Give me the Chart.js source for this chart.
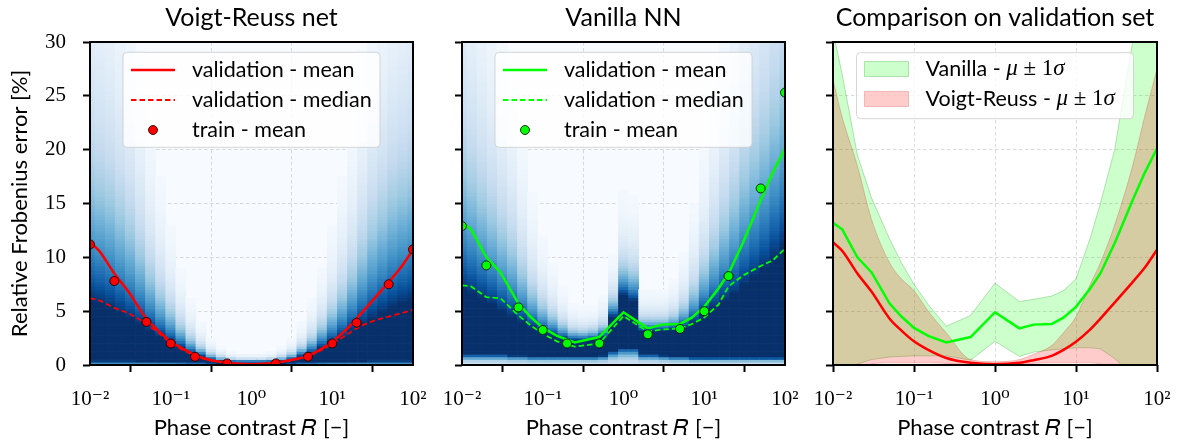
<!DOCTYPE html>
<html>
<head>
<meta charset="utf-8">
<script src="https://cdn.jsdelivr.net/npm/chart.js@4.4.1/dist/chart.umd.min.js"></script>
<style>
  html, body { margin: 0; padding: 0; background: #fff; }
  #wrap { position: relative; width: 1177px; height: 445px; overflow: hidden; }
  #wrap canvas { position: absolute; left: 0; top: 0; }
</style>
</head>
<body>
<div id="wrap">
  <canvas id="c1" width="1260" height="445"></canvas>
  <canvas id="c2" width="1260" height="445"></canvas>
  <canvas id="c3" width="1260" height="445"></canvas>
</div>
<script>
// axes
const xTicks = [0.01, 0.1, 1, 10, 100];
const xTickLabels = ['10⁻²', '10⁻¹', '10⁰', '10¹', '10²'];

// validation set (mean / median per phase contrast)
const valR = [0.01, 0.013, 0.02, 0.03, 0.05, 0.07, 0.1, 0.15, 0.25, 0.5, 1, 2, 3, 5, 7, 10, 15, 20, 30, 50, 70, 100];
const vrMean = [11.4, 10.6, 8.5, 6.8, 4.3, 3.2, 2.2, 1.4, 0.65, 0.2, 0.08, 0.2, 0.45, 0.85, 1.4, 2.15, 3.3, 4.3, 5.8, 7.7, 9.0, 10.7];
const vrMedian = [6.2, 6.0, 5.3, 4.8, 3.8, 3.0, 2.05, 1.3, 0.6, 0.2, 0.08, 0.2, 0.4, 0.8, 1.3, 1.95, 2.8, 3.4, 4.0, 4.5, 4.8, 5.1];
const vanMean = [13.2, 12.6, 10.0, 8.6, 5.7, 4.5, 3.45, 2.7, 2.1, 2.6, 4.9, 3.4, 3.75, 3.8, 4.4, 5.4, 7.1, 8.5, 11.3, 15.3, 17.8, 20.1];
const vanMedian = [7.4, 7.3, 6.3, 6.2, 4.6, 3.7, 2.9, 2.2, 1.7, 2.0, 4.55, 3.1, 3.3, 3.4, 3.8, 4.4, 5.6, 7.3, 8.3, 9.2, 9.7, 10.8];

// mu +- 1 sigma bands (validation)
const vanLow = [-1, -0.5, 0.1, 0.5, 0.75, 0.8, 0.85, 0.85, 0.85, 0.45, 2.2, 0.8, 1.2, 1.4, 1.5, 1.6, 1.6, 1.5, 0.6, -1, -1.5, -2];
const vanHigh = [31, 27, 19.5, 15.5, 11.7, 9.5, 7.5, 5.6, 3.6, 4.6, 7.6, 5.9, 6.1, 6.4, 6.9, 8.0, 11.8, 15, 20, 30, 36, 42];
const vrLow = [-1, -0.8, -0.3, 0.1, 0.2, 0.2, 0.2, 0.2, 0.15, 0.05, 0, 0.05, 0.15, 0.2, 0.2, 0.2, 0.2, 0.1, -0.3, -1, -1.5, -2];
const vrHigh = [26.5, 23, 18.5, 13.5, 9.5, 8.0, 6.9, 5.0, 3.0, 0.5, 0.3, 0.5, 1.0, 1.8, 3.0, 4.5, 7.5, 9.5, 13, 18.5, 23, 27.5];

// training set means
const trainR = [0.01, 0.02, 0.05, 0.1, 0.2, 0.5, 2, 5, 10, 20, 50, 100];
const vrTrain = [11.2, 7.8, 4.0, 2.0, 0.77, 0.15, 0.15, 0.77, 2.0, 3.93, 7.5, 10.74];
const vanTrain = [12.9, 9.25, 5.35, 3.25, 2.0, 2.0, 2.85, 3.35, 5.0, 8.26, 16.4, 25.3];

// error density columns: bottom of dense band, top of dense band, fade length above it
const colR = [0.01, 0.01334, 0.01778, 0.02371, 0.03162, 0.04217, 0.05623, 0.07499,
  0.1, 0.1334, 0.1778, 0.2371, 0.3162, 0.4217, 0.5623, 0.7499,
  1, 1.334, 1.778, 2.371, 3.162, 4.217, 5.623, 7.499,
  10, 13.34, 17.78, 23.71, 31.62, 42.17, 56.23, 74.99, 100];
const vrDenseLo = [0.4, 0.4, 0.4, 0.4, 0.4, 0.35, 0.35, 0.3, 0.3, 0.25, 0.2, 0.2, 0.15, 0.1, 0.1, 0.1, 0.1,
  0.1, 0.1, 0.1, 0.15, 0.2, 0.2, 0.25, 0.3, 0.3, 0.35, 0.35, 0.4, 0.4, 0.4, 0.4, 0.4];
const vrDenseHi = [6.0, 5.7, 5.3, 4.8, 4.3, 3.8, 3.2, 2.6, 2.1, 1.6, 1.1, 0.8, 0.5, 0.35, 0.3, 0.3, 0.3,
  0.3, 0.3, 0.35, 0.5, 0.8, 1.1, 1.6, 2.1, 2.6, 3.2, 3.8, 4.3, 4.8, 5.3, 5.7, 6.0];
const vrFade = [11, 10.5, 10, 9, 8, 6.5, 5, 3.8, 2.8, 1.9, 1.3, 0.8, 0.5, 0.35, 0.25, 0.2, 0.2,
  0.2, 0.25, 0.35, 0.5, 0.8, 1.3, 1.9, 2.8, 3.8, 5, 6.5, 8, 9, 10, 10.5, 11];
const vanDenseLo = [1.0, 1.0, 1.0, 1.0, 1.0, 0.9, 0.9, 0.8, 0.8, 0.8, 0.8, 0.8, 0.8, 0.8, 0.9, 1.3, 1.6,
  1.6, 1.0, 1.0, 0.9, 0.8, 0.8, 0.7, 0.7, 0.7, 0.7, 0.7, 0.7, 0.7, 0.7, 0.7, 0.7];
const vanDenseHi = [7.0, 6.6, 6.1, 5.6, 5.0, 4.5, 4.0, 3.5, 3.1, 2.8, 2.5, 2.3, 2.3, 2.4, 2.6, 4.5, 6.5,
  6.0, 3.2, 3.2, 3.2, 3.3, 3.5, 4.0, 4.8, 5.4, 6.0, 6.6, 7.4, 8.2, 9.0, 10, 11];
const vanFade = [11, 10, 9, 8, 7, 6, 4.5, 3.2, 2.3, 1.7, 1.2, 0.9, 0.8, 0.8, 1.0, 1.5, 2.5,
  2.5, 1.0, 1.0, 1.0, 1.2, 1.8, 2.8, 4, 5.5, 7, 8.5, 10, 11, 12, 13, 14];

const canvasW = 1260;
const sansFamily = 'Lato, "Open Sans", "DejaVu Sans", sans-serif';
const serifFamily = '"Liberation Serif", "DejaVu Serif", serif';
const tickFont = { family: serifFamily, size: 21 };

// matplotlib "Blues"
const blueStops = ['#f7fbff', '#deebf7', '#c6dbef', '#9ecae1', '#6baed6', '#4292c6', '#2171b5', '#08519c', '#08306b'];
const blueRgb = blueStops.map(h => [1, 3, 5].map(i => parseInt(h.slice(i, i + 2), 16)));
function blues(v) {
  v = Math.max(0, Math.min(1, v));
  const p = v * (blueRgb.length - 1);
  const i = Math.min(Math.floor(p), blueRgb.length - 2), f = p - i;
  const c = blueRgb[i].map((a, j) => Math.round(a + (blueRgb[i + 1][j] - a) * f));
  return `rgb(${c[0]},${c[1]},${c[2]})`;
}

function cellLevel(y, lo, hi, fade, base) {
  if (y < lo) return base + (1 - base) * Math.pow(y / lo, 2);
  if (y <= hi) return 1;
  return Math.exp(-(y - hi) / fade);
}

function heatCells(lo, hi, fade, base) {
  const cells = [], colors = [];
  colR.forEach((r, k) => {
    for (let j = 0; j < 120; j++) {
      const y0 = j * 0.25;
      const level = cellLevel(y0 + 0.125, lo[k], hi[k], fade[k], base);
      if (level < 0.02) continue;
      cells.push({ x: r, y: [y0, y0 + 0.25] });
      colors.push(blues(level));
    }
  });
  return { cells, colors };
}

const pts = (xs, ys) => xs.map((x, i) => ({ x, y: ys[i] }));

// plugins
const bgPlugin = {
  id: 'areaBg',
  beforeDraw(chart, args, o) {
    const { ctx, chartArea: a } = chart;
    ctx.save();
    ctx.fillStyle = o.color || '#fff';
    ctx.fillRect(a.left, a.top, a.right - a.left, a.bottom - a.top);
    ctx.restore();
  }
};

const framePlugin = {
  id: 'frame',
  afterDraw(chart) {
    const { ctx, chartArea: a } = chart;
    ctx.save();
    ctx.strokeStyle = '#000';
    ctx.lineWidth = 2;
    ctx.strokeRect(a.left, a.top, a.right - a.left, a.bottom - a.top);
    ctx.restore();
  }
};

function drawLabel(ctx, text, x, y) {
  const k = text.indexOf(' - ');
  const math = /[μσ]/.test(text) && k >= 0;
  const sans = `21.5px ${sansFamily}`;
  const parts = math ? [[text.slice(0, k + 3), sans]] : [[text, sans]];
  if (math) {
    for (const ch of text.slice(k + 3)) {
      parts.push([ch, /[μσ]/.test(ch) ? `italic 23px ${serifFamily}` : `23px ${serifFamily}`]);
    }
  }
  ctx.textBaseline = 'middle';
  ctx.textAlign = 'left';
  ctx.fillStyle = '#000';
  for (const [t, f] of parts) {
    ctx.font = f;
    ctx.fillText(t, x, y);
    x += ctx.measureText(t).width;
  }
}

const boxLegend = {
  id: 'boxLegend',
  afterDraw(chart, args, o) {
    if (!o.items) return;
    const { ctx, chartArea: a } = chart;
    const x0 = (a.left + a.right) / 2 - o.width / 2, y0 = a.top + o.top;
    ctx.save();
    ctx.beginPath();
    ctx.roundRect(x0, y0, o.width, o.height, 4);
    ctx.fillStyle = 'rgba(255,255,255,0.8)';
    ctx.fill();
    ctx.strokeStyle = 'rgba(204,204,204,0.8)';
    ctx.lineWidth = 1;
    ctx.stroke();
    o.items.forEach((idx, i) => {
      const ds = chart.data.datasets[idx];
      const cy = y0 + o.first + i * o.gap;
      const sx = x0 + 8, ex = x0 + 52;
      ctx.save();
      if (ds.showLine === false) {
        ctx.beginPath();
        ctx.arc((sx + ex) / 2, cy, ds.pointRadius, 0, Math.PI * 2);
        ctx.fillStyle = ds.pointBackgroundColor;
        ctx.fill();
        ctx.lineWidth = ds.pointBorderWidth;
        ctx.strokeStyle = ds.pointBorderColor;
        ctx.stroke();
      } else if (ds.fill) {
        ctx.fillStyle = ds.backgroundColor;
        ctx.fillRect(sx, cy - 7.5, ex - sx, 15);
        ctx.strokeStyle = ds.borderColor;
        ctx.lineWidth = 1;
        ctx.strokeRect(sx, cy - 7.5, ex - sx, 15);
      } else {
        ctx.beginPath();
        ctx.setLineDash(ds.borderDash || []);
        ctx.moveTo(sx, cy);
        ctx.lineTo(ex, cy);
        ctx.strokeStyle = ds.borderColor;
        ctx.lineWidth = ds.borderWidth;
        ctx.stroke();
      }
      ctx.restore();
      drawLabel(ctx, ds.label, x0 + 69, cy);
    });
    ctx.restore();
  }
};

const gridOpts = {
  color: 'rgba(190,190,190,0.55)', lineWidth: 1,
  drawTicks: true, tickLength: 7, tickWidth: 2, tickColor: '#000', tickBorderDash: []
};
const borderOpts = { display: false, dash: [3.5, 2.5] };

function makeScales(yWidth, showY) {
  return {
    x: {
      type: 'logarithmic', min: 0.01, max: 100, offset: false, z: 1,
      afterBuildTicks: s => { s.ticks = xTicks.map(v => ({ value: v })); },
      afterFit: s => { s.height = 80; },
      ticks: { font: tickFont, color: '#000', padding: 15, autoSkip: false, maxRotation: 0,
               callback: (v, i) => xTickLabels[i] },
      grid: gridOpts, border: borderOpts,
      title: { display: true, text: 'Phase contrast 𝑅 [−]', color: '#000',
               font: { family: sansFamily, size: 22 }, padding: { top: 0, bottom: 4 } }
    },
    y: {
      type: 'linear', min: 0, max: 30, z: 1,
      afterFit: s => { s.width = yWidth; },
      ticks: { stepSize: 5, font: tickFont, color: '#000', padding: 17, display: showY },
      grid: gridOpts, border: borderOpts,
      title: { display: showY, text: 'Relative Frobenius error [%]', color: '#000',
               font: { family: sansFamily, size: 22 }, padding: { top: 7, bottom: 0 } }
    }
  };
}

function titleOpts(text) {
  return { display: true, text, fullSize: false, color: '#000',
           font: { family: sansFamily, size: 25, weight: 'normal' }, padding: { top: 3, bottom: 9 } };
}

function heatPanel(canvasId, title, color, smooth, mean, median, train, heat, padL, yWidth, areaRight, showY) {
  const interp = smooth ? 'monotone' : 'default';
  return new Chart(document.getElementById(canvasId), {
    type: 'line',
    data: {
      datasets: [
        { label: 'validation - mean', data: pts(valR, mean), borderColor: color, borderWidth: 2.5,
          pointRadius: 0, fill: false, cubicInterpolationMode: interp, tension: 0, order: 1 },
        { label: 'validation - median', data: pts(valR, median), borderColor: color, borderWidth: 1.8,
          borderDash: [5.5, 3], pointRadius: 0, fill: false, cubicInterpolationMode: interp, tension: 0, order: 2 },
        { label: 'train - mean', data: pts(trainR, train), showLine: false, pointRadius: 4.5,
          pointBackgroundColor: color, pointBorderColor: '#000', pointBorderWidth: 0.8, order: 0 },
        { type: 'bar', label: 'density', data: heat.cells, backgroundColor: heat.colors, borderWidth: 0,
          barPercentage: 1, categoryPercentage: 1, clip: 0, order: 10 }
      ]
    },
    options: {
      responsive: false, animation: false, events: [],
      layout: { padding: { left: padL, right: canvasW - areaRight, top: 0, bottom: 0 } },
      scales: makeScales(yWidth, showY),
      plugins: {
        legend: { display: false }, tooltip: { enabled: false },
        title: titleOpts(title),
        areaBg: { color: '#f7fbff' },
        boxLegend: { items: [0, 1, 2], width: 257, height: 95, top: 10.3, first: 17.7, gap: 30 }
      }
    },
    plugins: [bgPlugin, framePlugin, boxLegend]
  });
}

const vrHeat = heatCells(vrDenseLo, vrDenseHi, vrFade, 0.6);
const vanHeat = heatCells(vanDenseLo, vanDenseHi, vanFade, 0.2);

heatPanel('c1', 'Voigt-Reuss net', '#ff0000', true, vrMean, vrMedian, vrTrain, vrHeat, 0, 90, 413, true);
heatPanel('c2', 'Vanilla NN', '#00ff00', false, vanMean, vanMedian, vanTrain, vanHeat, 425, 37, 785, false);

new Chart(document.getElementById('c3'), {
  type: 'line',
  data: {
    datasets: [
      { label: 'vanilla low', data: pts(valR, vanLow), borderColor: 'rgba(0,140,0,0.25)', borderWidth: 1,
        pointRadius: 0, fill: false, tension: 0, order: 3 },
      { label: 'Vanilla - μ ± 1σ', data: pts(valR, vanHigh), borderColor: 'rgba(0,140,0,0.25)', borderWidth: 1,
        backgroundColor: 'rgba(0,255,0,0.2)', pointRadius: 0, fill: '-1', tension: 0, order: 3 },
      { label: 'vr low', data: pts(valR, vrLow), borderColor: 'rgba(190,0,0,0.2)', borderWidth: 1,
        pointRadius: 0, fill: false, cubicInterpolationMode: 'monotone', order: 2 },
      { label: 'Voigt-Reuss - μ ± 1σ', data: pts(valR, vrHigh), borderColor: 'rgba(190,0,0,0.2)', borderWidth: 1,
        backgroundColor: 'rgba(255,0,0,0.2)', pointRadius: 0, fill: '-1', cubicInterpolationMode: 'monotone', order: 2 },
      { label: 'Vanilla mean', data: pts(valR, vanMean), borderColor: '#00ff00', borderWidth: 2.5,
        pointRadius: 0, fill: false, tension: 0, order: 0 },
      { label: 'Voigt-Reuss mean', data: pts(valR, vrMean), borderColor: '#ff0000', borderWidth: 2.5,
        pointRadius: 0, fill: false, cubicInterpolationMode: 'monotone', order: 1 }
    ]
  },
  options: {
    responsive: false, animation: false, events: [],
    layout: { padding: { left: 797, right: canvasW - 1157, top: 0, bottom: 0 } },
    scales: makeScales(36, false),
    plugins: {
      legend: { display: false }, tooltip: { enabled: false },
      title: titleOpts('Comparison on validation set'),
      areaBg: { color: '#ffffff' },
      boxLegend: { items: [1, 3], width: 277, height: 66, top: 10.7, first: 16.3, gap: 30 }
    }
  },
  plugins: [bgPlugin, framePlugin, boxLegend]
});
</script>
</body>
</html>
